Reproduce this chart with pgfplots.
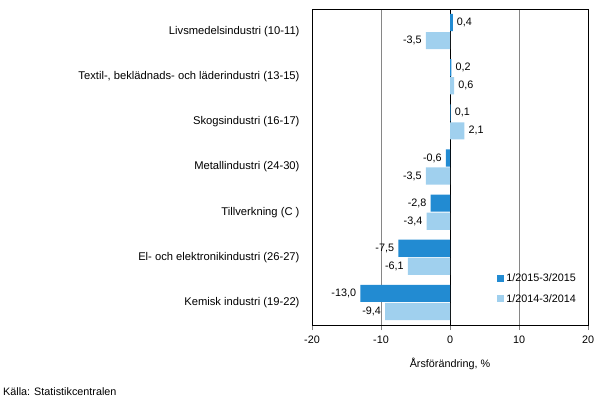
\documentclass[border=0pt]{standalone}
\usepackage{fontspec}
\setmainfont{Liberation Sans}
\usepackage{pgfplots}
\pgfplotsset{compat=1.18}
\definecolor{darkbar}{RGB}{34,139,210}
\definecolor{lightbar}{RGB}{160,208,238}
\definecolor{gridgray}{RGB}{134,134,134}
\newcommand{\chartfont}{\fontsize{10.8bp}{12bp}\selectfont}

\begin{document}
\begin{tikzpicture}[x=1bp,y=1bp]
\useasboundingbox (0,0) rectangle (605,416);
\begin{axis}[
    at={(312bp,91bp)}, anchor=south west,
    width=276bp, height=316bp, scale only axis,
    xbar, bar width=0.38,
    xmin=-20, xmax=20, ymin=0.5, ymax=7.5,
    y dir=reverse,
    xtick={-20,-10,0,10,20},
    ytick={1,...,7},
    yticklabels={Livsmedelsindustri (10-11),
        {Textil-, beklädnads- och läderindustri (13-15)},
        Skogsindustri (16-17),
        Metallindustri (24-30),
        Tillverkning (C ),
        El- och elektronikindustri (26-27),
        Kemisk industri (19-22)},
    /pgf/number format/assume math mode=true,
    tick label style={font=\chartfont},
    y tick label style={xshift=-4bp, font=\fontsize{11.2bp}{12bp}\selectfont},
    x tick label style={yshift=-2bp},
    ytick style={draw=none},
    xtick align=outside,
    xtick pos=bottom,
    major tick length=5bp,
    xmajorgrids,
    grid style={gridgray},
    extra x ticks={0},
    extra x tick labels={},
    extra x tick style={grid style={black}, major tick length=0pt},
    xlabel={Årsförändring, \%},
    xlabel style={font=\chartfont, yshift=-3bp},
    legend style={at={(0.66,0.175)}, anchor=north west, draw=none, fill=none,
        font=\chartfont, row sep=7bp, cells={anchor=west}},
    legend image code/.code={\fill[#1] (0bp,-3.5bp) rectangle (7bp,3.5bp);},
    nodes near coords={\pgfmathprintnumber[fixed,fixed zerofill,precision=1,use comma,assume math mode=true]{\pgfplotspointmeta}},
    nodes near coords align=horizontal,
    every node near coord/.append style={font=\chartfont, black, inner sep=4bp},
]
\addplot[fill=darkbar, draw=none, bar shift=-0.2] coordinates {
    (0.4,1) (0.2,2) (0.1,3) (-0.6,4) (-2.8,5) (-7.5,6) (-13.0,7)
};
\addplot[fill=lightbar, draw=none, bar shift=0.2] coordinates {
    (-3.5,1) (0.6,2) (2.1,3) (-3.5,4) (-3.4,5) (-6.1,6) (-9.4,7)
};
\legend{1/2015-3/2015, 1/2014-3/2014}
\end{axis}
\node[anchor=west, font=\chartfont, inner sep=0pt] at (3,24) {Källa: Statistikcentralen};
\end{tikzpicture}
\end{document}
